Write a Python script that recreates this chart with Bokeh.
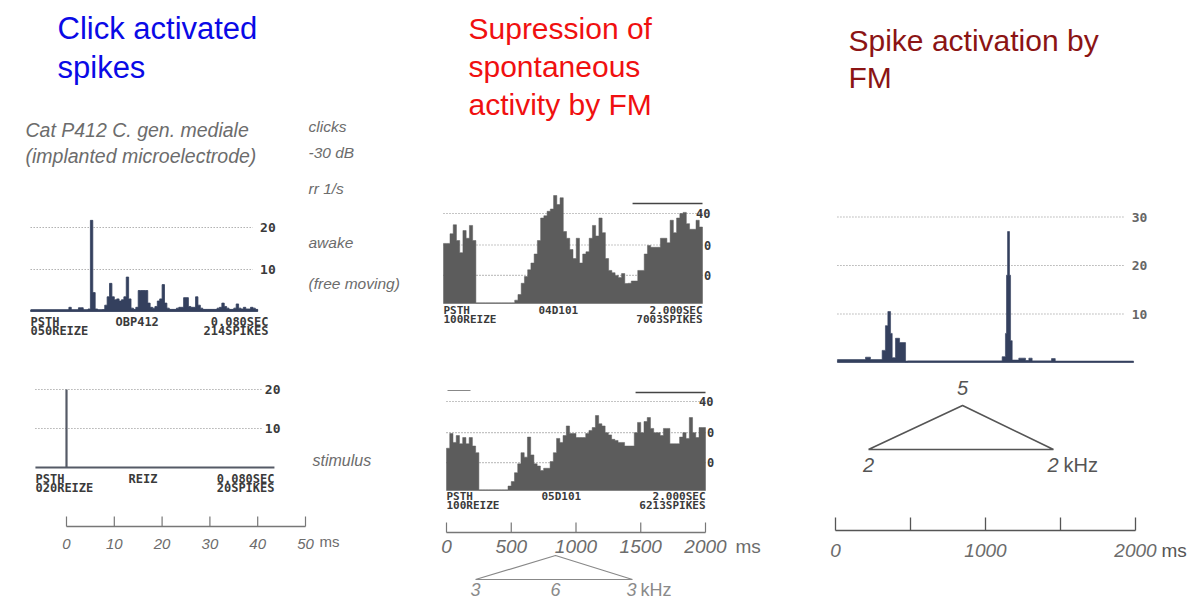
import numpy as np
from bokeh.plotting import figure
from bokeh.models import Range1d
from bokeh.core.properties import value
from bokeh.embed import file_html
from bokeh.resources import INLINE

# ---------------------------------------------------------------- data
TITLE_CLICK = ["Click activated", "spikes"]
TITLE_SUPP = ["Supression of", "spontaneous", "activity by FM"]
TITLE_ACT = ["Spike activation by", "FM"]

HEADER_LINES = ["Cat P412  C. gen. mediale", "(implanted microelectrode)"]
SIDE_NOTES = ["clicks", "-30 dB", "rr 1/s", "awake", "(free moving)"]
STIM_NOTE = "stimulus"

# click-evoked PSTH (awake), 0.5 ms bins starting at -7.5 ms
CLICK_START_MS = -7.5
CLICK_BIN_MS = 0.5
CLICK_COUNTS = [
    0.3, 0.3, 0.3, 0.3, 0.3, 0.3, 0.3, 0.3, 0.3, 0.3, 0.3, 0.3, 0.3, 0.3, 0.3,
    0.3, 1.0, 0.3, 0.3, 0.3, 0.9, 0.9, 0.3, 0.3, 0.6,
    21.7, 4.5, 0.6, 0.3, 0.3, 0.4, 1.5, 3.5, 6.7, 3.5,
    2.8, 3.0, 2.5, 2.8, 3.5, 8.2, 3.0, 0.8, 0.5, 1.0,
    5.0, 5.0, 5.0, 5.0, 2.0, 1.0, 0.8, 1.2, 2.5, 3.0,
    6.4, 2.0, 0.8, 0.5, 0.5, 0.5, 0.8, 1.0, 1.0, 3.3,
    3.3, 1.2, 1.0, 1.0, 3.5, 1.5, 0.8, 0.5, 0.5, 0.5,
    0.5, 0.5, 0.5, 0.8, 1.0, 2.0, 1.2, 0.8, 0.5, 0.5,
    0.8, 1.8, 0.8, 0.6, 1.0, 0.6, 0.6, 1.0, 0.8, 0.5,
]
CLICK_GRID = [10, 20]
CLICK_INFO = ["PSTH", "050REIZE", "OBP412", "0.080SEC", "214SPIKES"]

STIM_TIMES_MS = [0.0]
STIM_COUNTS = [20]
STIM_SPAN_MS = [-6.5, 43.5]
STIM_GRID = [10, 20]
STIM_INFO = ["PSTH", "020REIZE", "REIZ", "0.080SEC", "20SPIKES"]

CLICK_SCALE_TICKS = [0, 10, 20, 30, 40, 50]

# FM suppression PSTHs, 25 ms bins 0..2000 ms
FM_BIN_MS = 25
SUPP_TOP_COUNTS = [
    26.7, 26.7, 31, 35, 28, 22.6, 32.4, 29, 34.7, 28,
    0.3, 0.3, 0.3, 0.3, 0.3, 0.3, 0.3, 0.3, 0.3, 0.3,
    0.3, 0.3, 1.5, 4, 9, 12, 15, 18, 22, 28,
    38, 39, 41, 42, 48, 44, 47, 32, 29, 24,
    20, 29, 18, 22, 23, 29, 34.7, 30, 38, 31.5,
    20, 14.7, 13.7, 12.5, 11.6, 13.3, 8.9, 9, 10, 10,
    14.7, 14.7, 22, 25.8, 25, 25, 25, 29, 29, 27,
    37, 31.5, 38, 40, 40.5, 35.5, 33, 33, 37, 34,
]
SUPP_BOTTOM_COUNTS = [
    19, 25.6, 21.6, 24.7, 21, 23.8, 21, 23.8, 20, 17,
    0.3, 0.3, 0.3, 0.3, 0.3, 0.3, 0.3, 0.3, 0.3, 2,
    4, 8, 12, 17, 15, 24, 16, 12, 11, 9,
    10, 10, 13, 17, 23.4, 21.6, 24.7, 29, 25.6, 25.6,
    23.8, 23.8, 23.8, 25.6, 27, 28.3, 33.7, 30, 29, 26,
    25, 23, 22.5, 21.6, 21.6, 20, 20, 20, 26, 30.6,
    26, 31, 32.8, 27.9, 26, 26, 24.7, 27.9, 27.9, 21,
    21, 21, 24, 26, 23.4, 32.8, 26, 23.8, 28.3, 28.3,
]
SUPP_GRID = [12.5, 26, 40]
SUPP_GRID_LABELS = ["0", "0", "40"]
SUPP_TOP_INFO = ["PSTH", "100REIZE", "04D101", "2.000SEC", "7003SPIKES"]
SUPP_BOTTOM_INFO = ["PSTH", "100REIZE", "05D101", "2.000SEC", "6213SPIKES"]
SUPP_SCALE_TICKS = [0, 500, 1000, 1500, 2000]
SUPP_FM_TIMES_MS = [224, 842, 1436]
SUPP_FM_LABELS = ["3", "6", "3", "kHz"]

# FM activation PSTH (variable-width bins)
ACT_EDGES_MS = [13, 200, 233, 311, 333, 349, 367, 378, 400, 427, 467, 480,
                1111, 1133, 1140, 1147, 1160, 1167, 1178, 1222, 1267, 1289,
                1311, 1440, 1465, 1987]
ACT_COUNTS = [0.6, 1.1, 0.6, 2.5, 7.6, 10.5, 6, 1, 5, 4.1,
              0.0, 0.3, 1.2, 6, 18, 27, 18, 4.5, 0.5, 0.9,
              0.4, 0.9, 0.3, 0.8, 0.2]
ACT_GRID = [10, 20, 30]
ACT_SCALE_TICKS = [0, 500, 1000, 1500, 2000]
ACT_SCALE_LABELED = [0, 1000, 2000]
ACT_FM_TIMES_MS = [220, 847, 1453]
ACT_FM_LABELS = ["2", "5", "2", "kHz"]

# ---------------------------------------------------------------- styling
W, H = 1194, 600
FL, FR, FT, FB = 0, W, 0, H     # frame edges in picture pixels
SANS = value("Liberation Sans")
MONO = value("DejaVu Sans Mono")
HAND = "#6c6c6c"
DARK_HIST = "#34405e"
GRAY_HIST = "#5c5c5c"
PRINT = "#3a3a3a"

p = figure(width=W, height=H, output_backend="svg", toolbar_location=None,
           x_range=Range1d(FL, FR), y_range=Range1d(FB, FT),
           x_axis_location=None, y_axis_location=None, min_border=0,
           background_fill_color="white", border_fill_color="white")
p.outline_line_color = None
p.grid.visible = False

# panel placement: (x0 px of x=0, px per x unit, y0 px of y=0, px per y unit)
PLACE = {
    "click": (66, 4.78, 311, 4.2),
    "stim": (66, 4.78, 467, 3.9),
    "supp_top": (443, 0.1295, 303, 2.25),
    "supp_bot": (446, 0.1295, 490, 2.225),
    "act": (835, 0.15, 362, 4.85),
}
xr, yr = {}, {}
for name, (x0, kx, y0, ky) in PLACE.items():
    xr[name] = Range1d((FL - x0) / kx, (FR - x0) / kx)
    yr[name] = Range1d((y0 - FB) / ky, (y0 - FT) / ky)
p.extra_x_ranges = xr
p.extra_y_ranges = yr


def rn(name):
    return dict(x_range_name=name, y_range_name=name)


def step_outline(edges, counts):
    xs, ys = [edges[0]], [0]
    for i, c in enumerate(counts):
        xs += [edges[i], edges[i + 1]]
        ys += [c, c]
    xs.append(edges[-1])
    ys.append(0)
    return xs, ys


def grid(name, values, x_start, x_end, color="#8a8a8a"):
    n = len(values)
    p.segment(x0=[x_start] * n, x1=[x_end] * n, y0=values, y1=values,
              line_color=color, line_width=1.2, line_dash="1 2", **rn(name))


def txt(x, y, t, size, color=HAND, font=SANS, style="italic", align="left",
        baseline="middle", **kw):
    p.text(x=x, y=y, text=t, text_font=font, text_font_size=size,
           text_font_style=style, text_color=color, text_align=align,
           text_baseline=baseline, **kw)


def info_block(xl, xm, xr_, y, lines, size="12px"):
    txt([xl, xl, xm, xr_, xr_], [y, y + 9, y, y, y + 9],
        [lines[0], lines[1], lines[2], lines[3], lines[4]], size,
        color=PRINT, font=MONO, style="bold",
        align=["left", "left", "left", "right", "right"])


# ---------------------------------------------------------------- titles
txt([57, 57], [28, 67], TITLE_CLICK, "31px", color="#0a0ae6", style="normal")
txt([468, 468, 468], [28, 66, 104], TITLE_SUPP, "30px", color="#f01010", style="normal")
txt([848, 848], [40, 77], TITLE_ACT, "30px", color="#8b1414", style="normal")

# ---------------------------------------------------------------- left column
txt([25, 25], [129, 155], HEADER_LINES, "19.5px")
txt([308] * 5, [126, 152, 188, 242, 283], SIDE_NOTES, "15.5px")
txt([312], [460], [STIM_NOTE], "16px")

# click PSTH
edges = CLICK_START_MS + CLICK_BIN_MS * np.arange(len(CLICK_COUNTS) + 1)
grid("click", CLICK_GRID, edges[0], 39.0)
txt([40.5] * 2, CLICK_GRID, [str(v) for v in CLICK_GRID], "13px", color=PRINT,
    font=MONO, style="bold", **rn("click"))
xs, ys = step_outline(list(edges), CLICK_COUNTS)
p.patch(xs, ys, fill_color=DARK_HIST, line_color=DARK_HIST, line_width=0.8, **rn("click"))
p.line([edges[0], edges[-1]], [0.3, 0.3], line_color=DARK_HIST, line_width=2, **rn("click"))
info_block(30, 115, 268, 321, CLICK_INFO)

# stimulus PSTH
grid("stim", STIM_GRID, STIM_SPAN_MS[0], 41.0)
txt([41.5] * 2, STIM_GRID, [str(v) for v in STIM_GRID], "13px", color=PRINT,
    font=MONO, style="bold", **rn("stim"))
p.line(STIM_SPAN_MS, [0, 0], line_color="#555a66", line_width=2.2, **rn("stim"))
p.segment(x0=STIM_TIMES_MS, x1=STIM_TIMES_MS, y0=[0] * len(STIM_COUNTS), y1=STIM_COUNTS,
          line_color="#555a66", line_width=2.2, **rn("stim"))
info_block(35, 128, 274, 478, STIM_INFO)

# time scale (ms)
SY = 526
sx = [66 + 4.78 * t for t in CLICK_SCALE_TICKS]
p.line([sx[0], sx[-1]], [SY, SY], line_color="#777", line_width=1.3)
p.segment(x0=sx, x1=sx, y0=[SY] * len(sx), y1=[SY - 10] * len(sx),
          line_color="#777", line_width=1.2)
txt(sx, [543] * len(sx), [str(t) for t in CLICK_SCALE_TICKS], "15px", align="center")
txt([sx[-1] + 14], [541], ["ms"], "15px", style="normal")

# ---------------------------------------------------------------- middle column
for name, counts, info, iy, top_line_y in [
        ("supp_top", SUPP_TOP_COUNTS, SUPP_TOP_INFO, 310, 203),
        ("supp_bot", SUPP_BOTTOM_COUNTS, SUPP_BOTTOM_INFO, 496, 392)]:
    x0, kx, y0, ky = PLACE[name]
    e = FM_BIN_MS * np.arange(len(counts) + 1)
    grid(name, SUPP_GRID, 0, e[-1])
    xs, ys = step_outline(list(e), counts)
    p.patch(xs, ys, fill_color=GRAY_HIST, line_color=GRAY_HIST, line_width=0.5, **rn(name))
    lab_x = [e[-1] + 40, e[-1] + 40, e[-1] + 5]
    txt(lab_x, SUPP_GRID, SUPP_GRID_LABELS, "12px", color=PRINT, font=MONO,
        style="bold", align="center", **rn(name))
    p.line([x0 + kx * 1460, x0 + kx * e[-1]], [top_line_y, top_line_y],
           line_color="#444", line_width=1.5)
    info_block(x0, x0 + 95, x0 + kx * e[-1], iy, info, size="11px")

p.line([447, 470], [390, 390], line_color="#888", line_width=1)

x0m, kxm = PLACE["supp_bot"][0], PLACE["supp_bot"][1]
MY = 532
mx = [x0m + kxm * t for t in SUPP_SCALE_TICKS]
p.line([mx[0], mx[-1]], [MY, MY], line_color="#777", line_width=1.3)
p.segment(x0=mx, x1=mx, y0=[MY] * len(mx), y1=[MY - 10] * len(mx),
          line_color="#777", line_width=1.2)
txt(mx, [546] * len(mx), [str(t) for t in SUPP_SCALE_TICKS], "19px", align="center")
txt([mx[-1] + 30], [546], ["ms"], "19px", style="normal")

fx = [x0m + kxm * t for t in SUPP_FM_TIMES_MS]
p.line([fx[0], fx[1], fx[2], fx[0]], [579, 555, 579, 579], line_color="#888", line_width=1.2)
txt(fx[:2], [589, 589], SUPP_FM_LABELS[:2], "18px", color="#8a8a8a", align="center")
txt([fx[2] - 6], [589], [SUPP_FM_LABELS[2]], "18px", color="#8a8a8a")
txt([fx[2] + 8], [589], [SUPP_FM_LABELS[3]], "18px", color="#8a8a8a", style="normal")

# ---------------------------------------------------------------- right column
x0r, kxr = PLACE["act"][0], PLACE["act"][1]
grid("act", ACT_GRID, ACT_EDGES_MS[0], 1920)
txt([1975] * 3, ACT_GRID, [str(v) for v in ACT_GRID], "13px", color="#666",
    font=MONO, style="bold", **rn("act"))
xs, ys = step_outline(ACT_EDGES_MS, ACT_COUNTS)
p.patch(xs, ys, fill_color=DARK_HIST, line_color=DARK_HIST, line_width=0.6, **rn("act"))
p.line([ACT_EDGES_MS[0], ACT_EDGES_MS[-1]], [0.2, 0.2], line_color=DARK_HIST,
       line_width=1.5, **rn("act"))

RY = 530
rx = [x0r + kxr * t for t in ACT_SCALE_TICKS]
p.line([rx[0], rx[-1]], [RY, RY], line_color="#555", line_width=1.5)
p.segment(x0=rx, x1=rx, y0=[RY] * len(rx), y1=[RY - 13] * len(rx),
          line_color="#555", line_width=1.3)
lx = [x0r + kxr * t for t in ACT_SCALE_LABELED]
txt(lx, [550] * len(lx), [str(t) for t in ACT_SCALE_LABELED], "19px", align="center")
txt([lx[-1] + 26], [550], ["ms"], "19px", style="normal", color="#555")

ax = [x0r + kxr * t for t in ACT_FM_TIMES_MS]
p.line([ax[0], ax[1], ax[2], ax[0]], [449, 405, 449, 449], line_color="#555", line_width=1.6)
txt([ax[1]], [387], [ACT_FM_LABELS[1]], "20px", color="#555", align="center")
txt([ax[0]], [464], [ACT_FM_LABELS[0]], "20px", color="#555", align="center")
txt([ax[2] - 6], [464], [ACT_FM_LABELS[2]], "20px", color="#555")
txt([ax[2] + 10], [464], [ACT_FM_LABELS[3]], "20px", color="#555", style="normal")

open("out.html", "w").write(file_html(p, INLINE))
